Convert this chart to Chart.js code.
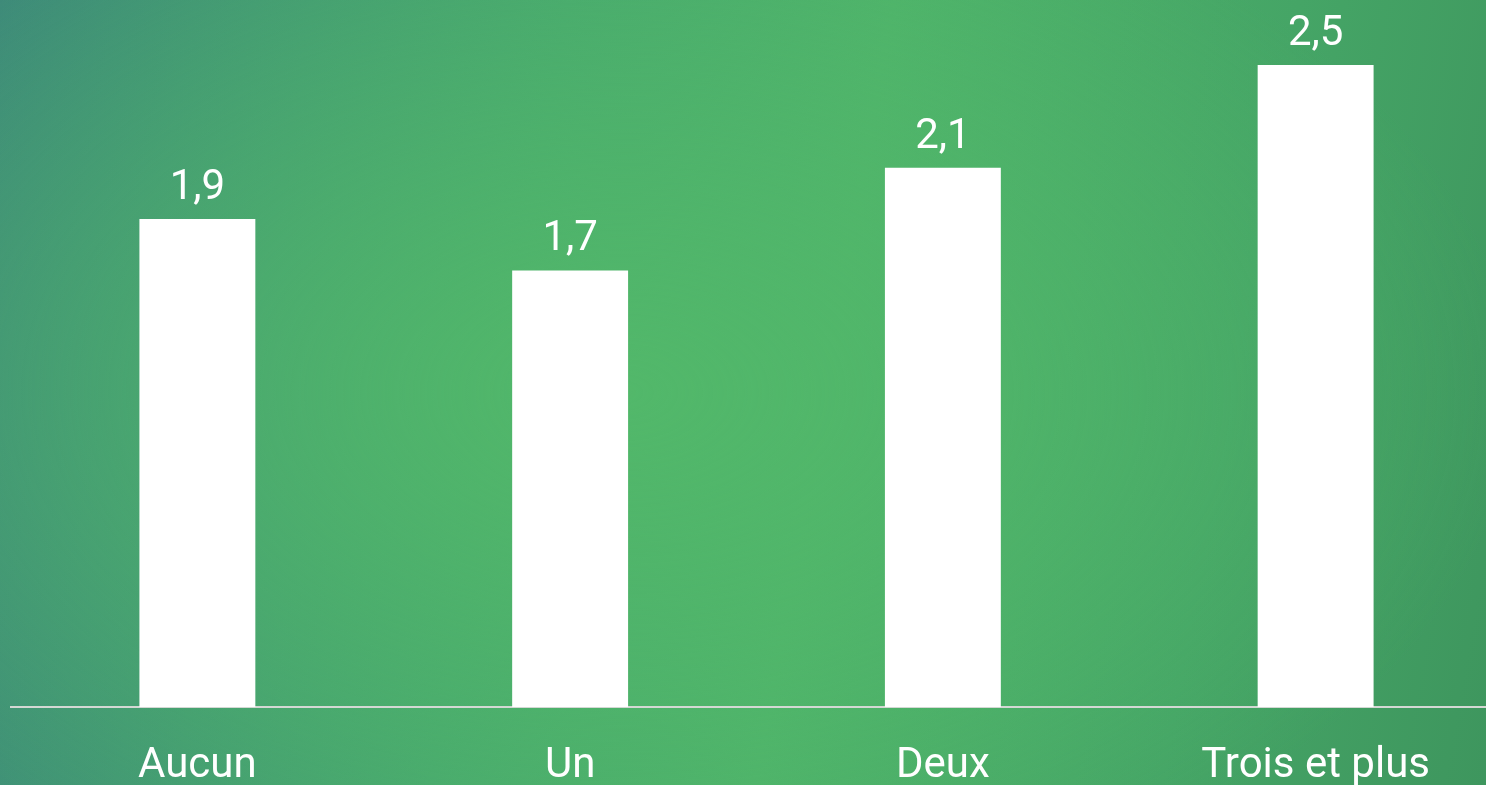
<!DOCTYPE html>
<html>
<head>
<meta charset="utf-8">
<script src="https://cdn.jsdelivr.net/npm/chart.js@4.4.1/dist/chart.umd.min.js"></script>
<style>
  html, body { margin: 0; padding: 0; overflow: hidden; width: 1486px; height: 785px; }
  body {
    background:
      radial-gradient(ellipse 60% 70% at 42% 50%, rgba(82,184,106,1) 0%, rgba(82,184,106,0) 100%),
      linear-gradient(100deg, #3e8b79 0%, #47a86e 35%, #4eb36a 55%, #45a566 80%, #3e965e 100%);
  }
  #wrap { position: absolute; left: 0; top: 0; width: 1502px; height: 785px; }
</style>
</head>
<body>
<div id="wrap"><canvas id="chart" width="1502" height="785"></canvas></div>
<script>
const categories = ["Aucun", "Un", "Deux", "Trois et plus"];
const values = [1.9, 1.7, 2.1, 2.5];

// value labels above each bar
const valueLabels = {
  id: "valueLabels",
  afterDatasetsDraw(chart) {
    const ctx = chart.ctx;
    const meta = chart.getDatasetMeta(0);
    ctx.save();
    ctx.fillStyle = "#ffffff";
    ctx.font = "42px Roboto";
    ctx.textAlign = "center";
    ctx.textBaseline = "alphabetic";
    meta.data.forEach((bar, i) => {
      ctx.fillText(String(values[i]).replace(".", ","), bar.x, bar.y - 20);
    });
    ctx.restore();
  }
};

new Chart(document.getElementById("chart"), {
  type: "bar",
  data: {
    labels: categories,
    datasets: [{
      data: values,
      backgroundColor: "#ffffff",
      borderWidth: 0,
      barPercentage: 0.311,
      categoryPercentage: 1
    }]
  },
  options: {
    responsive: false,
    animation: false,
    layout: { padding: { left: 11, right: 0, top: 0, bottom: 0 } },
    plugins: { legend: { display: false }, tooltip: { enabled: false } },
    scales: {
      x: {
        grid: { display: false, drawTicks: false },
        border: { display: true, color: "#d4d8d4", width: 2 },
        ticks: { color: "#ffffff", font: { family: "Roboto", size: 42 }, padding: 34, maxRotation: 0 },
        afterFit(scale) { scale.height = 78; }
      },
      y: {
        display: false,
        min: 0,
        max: 2.753
      }
    }
  },
  plugins: [valueLabels]
});
</script>
</body>
</html>
